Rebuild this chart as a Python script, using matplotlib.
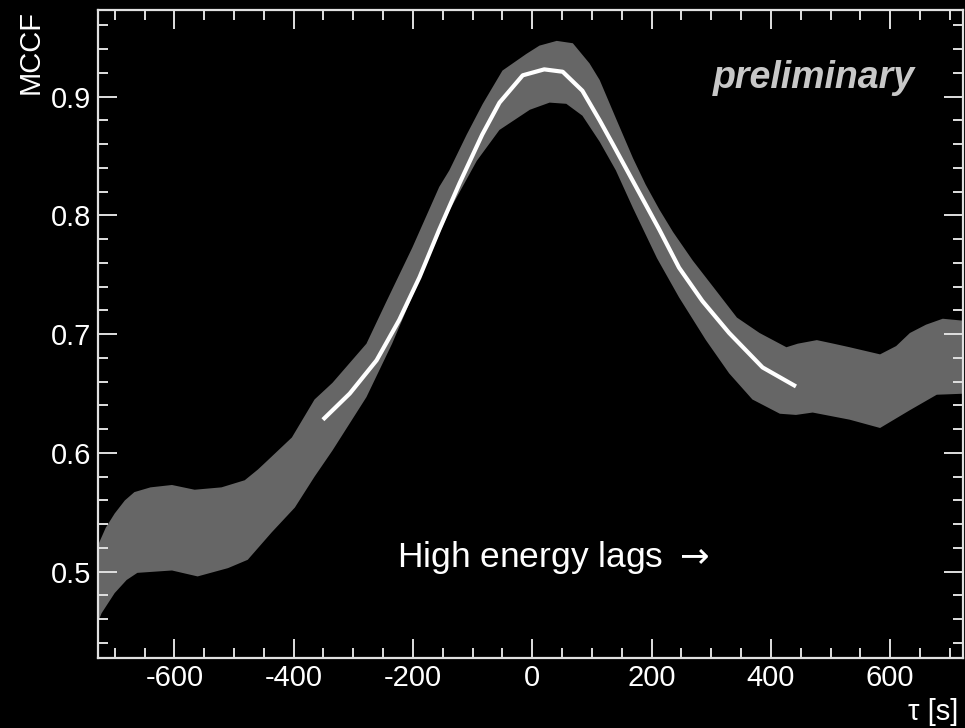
import matplotlib
matplotlib.use("Agg")
import matplotlib.pyplot as plt
from matplotlib.ticker import MultipleLocator

plt.rcParams['font.family'] = ['Liberation Sans', 'DejaVu Sans']
plt.rcParams['axes.unicode_minus'] = False

# band edges (tau in s, MCCF)
up_x = [-730, -715, -700, -683, -667, -640, -604, -566, -521, -482, -460, -443, -403,
        -365, -335, -278, -245, -201, -156, -139, -110, -83, -50, -10, 12, 41, 68, 96,
        113, 140, 169, 190, 213, 236, 269, 303, 343, 381, 426, 445, 477, 505, 532, 583,
        610, 633, 660, 688, 730]
up_y = [0.520, 0.537, 0.549, 0.560, 0.567, 0.571, 0.573, 0.569, 0.571, 0.577, 0.586,
        0.594, 0.613, 0.645, 0.659, 0.692, 0.727, 0.773, 0.824, 0.838, 0.868, 0.894,
        0.922, 0.936, 0.943, 0.947, 0.945, 0.928, 0.914, 0.882, 0.848, 0.826, 0.805,
        0.786, 0.762, 0.740, 0.714, 0.701, 0.689, 0.692, 0.695, 0.692, 0.689, 0.683,
        0.690, 0.701, 0.708, 0.713, 0.711]

lo_x = [-730, -722, -700, -680, -662, -604, -561, -510, -477, -437, -398, -365, -335,
        -278, -235, -184, -139, -93, -55, -4, 29, 57, 84, 113, 140, 169, 209, 246, 291,
        330, 369, 415, 442, 470, 532, 583, 633, 678, 730]
lo_y = [0.455, 0.465, 0.482, 0.493, 0.499, 0.501, 0.496, 0.503, 0.510, 0.533, 0.554,
        0.580, 0.602, 0.647, 0.692, 0.752, 0.804, 0.846, 0.872, 0.889, 0.895, 0.894,
        0.884, 0.862, 0.838, 0.806, 0.764, 0.731, 0.695, 0.667, 0.645, 0.633, 0.632,
        0.634, 0.628, 0.621, 0.636, 0.649, 0.650]

# fitted curve
fit_x = [-351, -306, -261, -223, -189, -156, -122, -84, -55, -16, 20, 51, 84, 113, 135,
         174, 213, 246, 285, 330, 386, 442]
fit_y = [0.628, 0.650, 0.678, 0.712, 0.748, 0.788, 0.827, 0.868, 0.895, 0.918, 0.923,
         0.921, 0.905, 0.880, 0.860, 0.824, 0.788, 0.756, 0.728, 0.701, 0.672, 0.656]

fig = plt.figure(figsize=(9.65, 7.28), dpi=100, facecolor='black')
ax = fig.add_axes([98/965, 70/728, 865/965, 648/728])
ax.set_facecolor('black')

# fill_between needs a shared x, so draw the band as a polygon instead
ax.fill(up_x + lo_x[::-1], up_y + lo_y[::-1], color='#666666', lw=0)
ax.plot(fit_x, fit_y, color='white', lw=3, solid_capstyle='butt', solid_joinstyle='round')

ax.set_xlim(-728, 722)
ax.set_ylim(0.4273, 0.973)

ax.xaxis.set_major_locator(MultipleLocator(200))
ax.xaxis.set_minor_locator(MultipleLocator(50))
ax.yaxis.set_major_locator(MultipleLocator(0.1))
ax.yaxis.set_minor_locator(MultipleLocator(0.02))
ax.tick_params(which='both', direction='in', top=True, right=True, color='#e0e0e0',
               width=1.4, labelcolor='white', labelsize=21)
ax.tick_params(which='major', length=14)
ax.tick_params(which='minor', length=7)
ax.tick_params(axis='x', pad=4)
ax.tick_params(axis='y', pad=5)
for s in ax.spines.values():
    s.set_color('#e0e0e0')
    s.set_linewidth(1.6)

fig.text(31/965, 1 - 10/728, 'MCCF', rotation=90, ha='center', va='top',
         color='white', fontsize=21)
fig.text(958/965, 1 - 712/728, '\u03c4 [s]', ha='right', va='center',
         color='white', fontsize=21)

ax.text(641, 0.907, 'preliminary', ha='right', va='baseline', color='#c8c8c8',
        fontsize=27, fontweight='bold', fontstyle='italic')
ax.text(-226, 0.504, 'High energy lags $\\rightarrow$', ha='left', va='baseline',
        color='white', fontsize=25.5)

fig.savefig('out.png', dpi=100, facecolor='black')
